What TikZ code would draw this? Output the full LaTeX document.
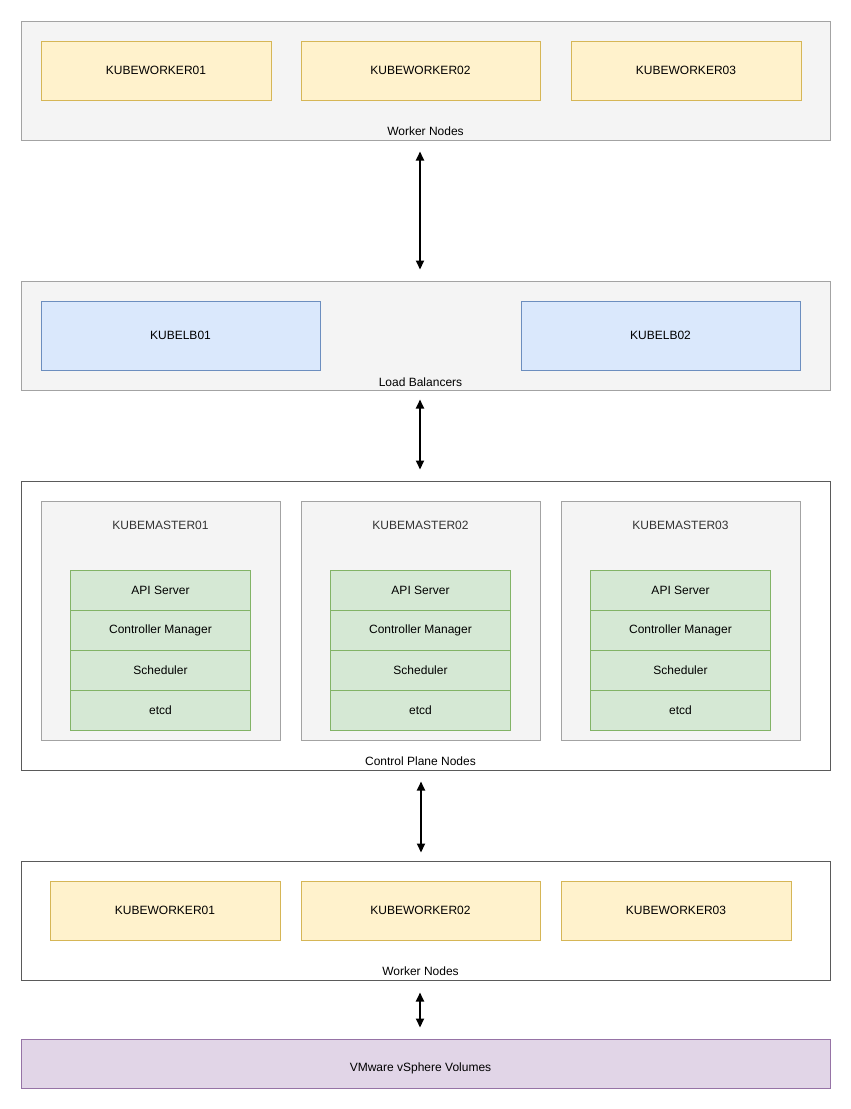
\documentclass[tikz,border=0pt]{standalone}
\usepackage{fontspec}
\setmainfont{Liberation Sans}
\usetikzlibrary{arrows.meta,positioning}

\definecolor{grpfill}{HTML}{F4F4F4}
\definecolor{grpline}{HTML}{A3A3A3}
\definecolor{darkline}{HTML}{5A5A5A}
\definecolor{wfill}{HTML}{FFF2CC}
\definecolor{wline}{HTML}{D6B656}
\definecolor{lbfill}{HTML}{DAE8FC}
\definecolor{lbline}{HTML}{6C8EBF}
\definecolor{cfill}{HTML}{D5E8D4}
\definecolor{cline}{HTML}{82B366}
\definecolor{vfill}{HTML}{E1D5E7}
\definecolor{vline}{HTML}{9673A6}
\definecolor{mtext}{HTML}{333333}

\tikzset{
	box/.style={rectangle,inner sep=0pt,line width=1pt},
	group/.style={box,fill=grpfill,draw=grpline},
	plaingroup/.style={box,fill=white,draw=darkline},
	worker/.style={box,fill=wfill,draw=wline,minimum height=59pt},
	lbbox/.style={box,fill=lbfill,draw=lbline,minimum width=279pt,minimum height=69pt},
	master/.style={box,fill=grpfill,draw=grpline,minimum width=239pt,minimum height=239pt},
	part/.style={box,fill=cfill,draw=cline,outer sep=0pt,minimum width=180pt,minimum height=40pt},
	grplabel/.style={anchor=base,inner sep=0pt},
	link/.style={{Triangle[length=9pt,width=8pt]}-{Triangle[length=9pt,width=8pt]},line width=2pt,black}
}

\begin{document}
\begin{tikzpicture}[x=1pt,y=-1pt,node font=\fontsize{12}{14}\selectfont]
	\useasboundingbox (0,0) rectangle (851,1109);

	% groups
	\node[group,minimum width=809pt,minimum height=119pt] (wtop) at (425.5,80.5) {};
	\node[group,minimum width=809pt,minimum height=109pt] (lbs) at (425.5,335.5) {};
	\node[plaingroup,minimum width=809pt,minimum height=289pt] (cp) at (425.5,625.5) {};
	\node[plaingroup,minimum width=809pt,minimum height=119pt] (wbot) at (425.5,920.5) {};
	\node[box,fill=vfill,draw=vline,minimum width=809pt,minimum height=49pt] (vol) at (425.5,1063.5) {};

	\node[grplabel] at (425.5,135) {Worker Nodes};
	\node[grplabel] at (420.5,386) {Load Balancers};
	\node[grplabel] at (420.5,765) {Control Plane Nodes};
	\node[grplabel] at (420.5,975) {Worker Nodes};
	\node[grplabel] at (420.5,1071) {VMware vSphere Volumes};

	% top workers
	\node[worker,minimum width=230pt] (tw1) at (156,70.5) {KUBEWORKER01};
	\node[worker,minimum width=239pt] (tw2) at (420.5,70.5) {KUBEWORKER02};
	\node[worker,minimum width=230pt] (tw3) at (686,70.5) {KUBEWORKER03};

	% load balancers
	\node[lbbox] (lb1) at (180.5,335.5) {KUBELB01};
	\node[lbbox] (lb2) at (660.5,335.5) {KUBELB02};

	% masters
	\foreach \i/\x in {1/160.5,2/420.5,3/680.5} {
		\node[master] (m\i) at (\x,620.5) {};
		\node[grplabel,text=mtext] at (\x,529) {KUBEMASTER0\i};
		\node[part] (api\i) at (\x,590.5) {API Server};
		\node[part,below=0pt of api\i] (cm\i) {Controller Manager};
		\node[part,below=0pt of cm\i] (sch\i) {Scheduler};
		\node[part,below=0pt of sch\i] (etcd\i) {etcd};
	}

	% bottom workers
	\node[worker,minimum width=230pt] (bw1) at (165,910.5) {KUBEWORKER01};
	\node[worker,minimum width=239pt] (bw2) at (420.5,910.5) {KUBEWORKER02};
	\node[worker,minimum width=230pt] (bw3) at (676,910.5) {KUBEWORKER03};

	% links
	\draw[link,shorten <=11pt,shorten >=11pt] ([xshift=-5.5pt]wtop.south) -- ([xshift=-5.5pt]lbs.north);
	\draw[link,shorten <=9pt,shorten >=11pt] ([xshift=-5.5pt]lbs.south) -- ([xshift=-5.5pt]cp.north);
	\draw[link,shorten <=11pt,shorten >=8pt] ([xshift=-4.5pt]cp.south) -- ([xshift=-4.5pt]wbot.north);
	\draw[link,shorten <=12pt,shorten >=11pt] ([xshift=-5.5pt]wbot.south) -- ([xshift=-5.5pt]vol.north);
\end{tikzpicture}
\end{document}
